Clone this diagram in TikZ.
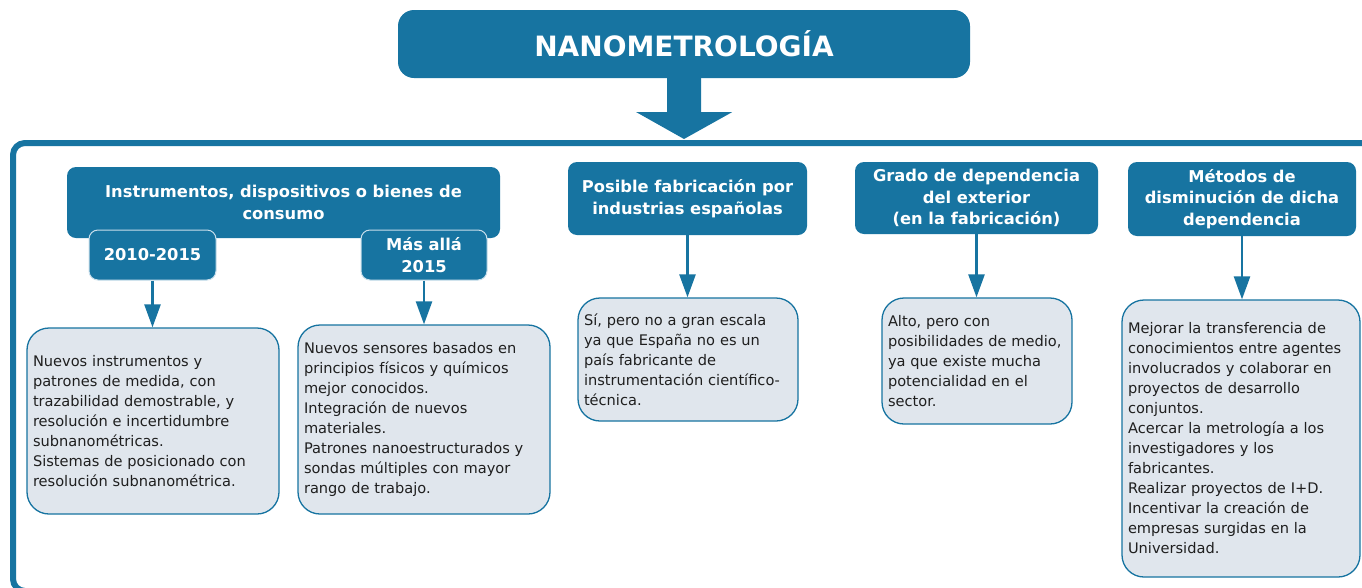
\documentclass[tikz,border=0pt]{standalone}
\usepackage{fontspec}
\setmainfont{DejaVu Sans}
\usetikzlibrary{arrows.meta}
\definecolor{nblue}{RGB}{23,116,161}
\definecolor{nfill}{RGB}{224,230,237}
\definecolor{nedge}{RGB}{200,222,235}
\begin{document}
\begin{tikzpicture}[x=1pt,y=-1pt,
  hdr/.style={fill=nblue, rounded corners=9pt, text=white, align=center, inner sep=0pt,
    font=\fontsize{16.3}{21.5}\selectfont\bfseries},
  subbox/.style={hdr, draw=nedge, line width=1pt},
  body/.style={fill=nfill, draw=nblue, line width=1.3pt, rounded corners=22pt, align=left,
    inner xsep=6pt, inner ysep=0pt, text=black!88,
    font=\fontsize{14.6}{20}\selectfont},
  conn/.style={draw=nblue, line width=2.5pt, -{Triangle[width=16pt,length=23pt]}}]
\useasboundingbox (0,0) rectangle (1362,587);
\fill[white] (0,0) rectangle (1362,587);
% container
\draw[nblue, line width=6pt, rounded corners=12pt] (80,591) -- (13,591) -- (13,143) -- (1400,143);
% title
\node[fill=nblue, rounded corners=16pt, minimum width=572pt, minimum height=68pt, inner sep=0pt,
  text=white, font=\fontsize{28}{30}\selectfont\bfseries] (title) at (684,44) {NANOMETROLOGÍA};
\coordinate (tip) at (684,139);
\fill[nblue] (title.south) ++(-17,0) -- ++(34,0) -- ++(0,34) -- ++(31,0) -- (tip) -- ++(-48,-27) -- ++(31,0) -- cycle;
% headers
\node[hdr, minimum width=433pt, minimum height=71pt] (h1) at (283.5,202.5) {Instrumentos, dispositivos o bienes de\\consumo};
\node[subbox, minimum width=127pt, minimum height=50pt] (s1) at (152.5,255) {2010-2015};
\node[subbox, minimum width=126pt, minimum height=50pt] (s2) at (424,255) {Más allá\\2015};
\node[hdr, minimum width=239pt, minimum height=73pt] (h2) at (687.5,198.5) {Posible fabricación por\\industrias españolas};
\node[hdr, minimum width=243pt, minimum height=72pt] (h3) at (976.5,198) {Grado de dependencia\\del exterior\\(en la fabricación)};
\node[hdr, minimum width=228pt, minimum height=74pt] (h4) at (1242,199) {Métodos de\\disminución de dicha\\dependencia};
% bodies
\node[body, text width=240pt, minimum height=186pt] (b1) at (153,421) {Nuevos instrumentos y\\patrones de medida, con\\trazabilidad demostrable, y\\resolución e incertidumbre\\subnanométricas.\\Sistemas de posicionado con\\resolución subnanométrica.};
\node[body, text width=240pt, minimum height=189pt] (b2) at (424,419.5) {Nuevos sensores basados en\\principios físicos y químicos\\mejor conocidos.\\Integración de nuevos\\materiales.\\Patrones nanoestructurados y\\sondas múltiples con mayor\\rango de trabajo.};
\node[body, text width=208pt, minimum height=123pt] (b3) at (688,359.5) {Sí, pero no a gran escala\\ya que España no es un\\país fabricante de\\instrumentación científico-\\técnica.};
\node[body, text width=178pt, minimum height=126pt] (b4) at (977,361) {Alto, pero con\\posibilidades de medio,\\ya que existe mucha\\potencialidad en el\\sector.};
\node[body, text width=226pt, minimum height=277pt] (b5) at (1241,438.5) {Mejorar la transferencia de\\conocimientos entre agentes\\involucrados y colaborar en\\proyectos de desarrollo\\conjuntos.\\Acercar la metrología a los\\investigadores y los\\fabricantes.\\Realizar proyectos de I+D.\\Incentivar la creación de\\empresas surgidas en la\\Universidad.};
% connectors
\draw[conn] (s1.south) -- (s1.south |- b1.north);
\draw[conn] (s2.south) -- (s2.south |- b2.north);
\draw[conn] (h2.south) -- (h2.south |- b3.north);
\draw[conn] (h3.south) -- (h3.south |- b4.north);
\draw[conn] (h4.south) -- (h4.south |- b5.north);
\end{tikzpicture}
\end{document}
